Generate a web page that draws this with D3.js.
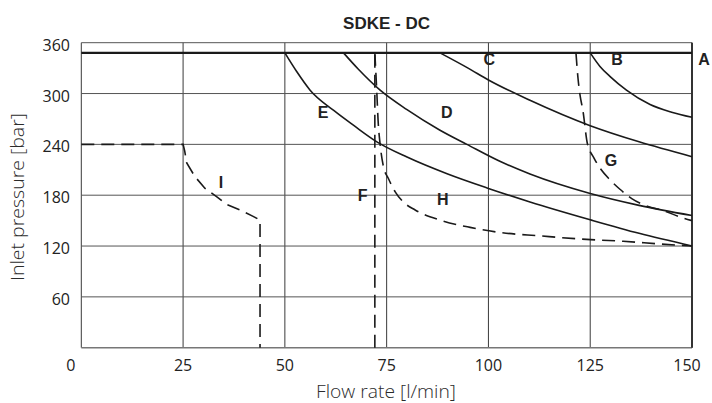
<!DOCTYPE html>
<meta charset="utf-8">
<style>
    body { margin: 0; background: #fff; }
    .grid line { stroke: #3a3a3a; stroke-width: 1; }
    .tick-label { font: 16px "Open Sans", sans-serif; fill: #222; }
    .axis-title { font: 300 18px "Open Sans", sans-serif; fill: #2b2b2b; }
    .curve { fill: none; stroke: #1a1a1a; stroke-width: 1.6; }
    .curve--dash { stroke-dasharray: 13,7; }
    .tag { font: bold 16px "Liberation Sans", Arial, sans-serif; fill: #222; text-anchor: middle; }
    .title { font: bold 17px "Liberation Sans", Arial, sans-serif; fill: #222; text-anchor: middle; }
</style>
<svg width="712" height="403"></svg>
<script src="https://d3js.org/d3.v7.min.js"></script>
<script>
    // ticks
    var flowTicks = [0, 25, 50, 75, 100, 125, 150];
    var pressTicks = [60, 120, 180, 240, 300, 360];

    // curves, [flow l/min, pressure bar]
    var curveA = [[0, 348], [150, 348]];
    var curveB = [[125, 348], [127.4, 332], [129.9, 320], [133.9, 304], [139.7, 287], [145, 278], [150, 272]];
    var curveC = [[88.1, 348], [95, 330], [100, 316], [110.2, 292], [125, 262], [137, 243], [150, 225.5]];
    var curveD = [[64.4, 348], [68, 329], [73.4, 304], [80, 281], [88, 257], [94.7, 240], [102.8, 220], [110.2, 205], [125, 182], [137, 168], [150, 156]];
    var curveE = [[50, 348], [52.9, 326], [56.2, 304], [62, 280], [67, 262], [72.6, 243], [80, 225], [90, 205], [100, 188], [110.2, 172], [125, 151], [137, 135], [150, 120]];
    var curveF = [[72.1, 0], [72.1, 348]];
    var curveG = [[121.5, 348], [122, 318], [122.5, 298], [123.2, 280], [124.3, 241], [125.8, 225], [127.4, 212], [129.9, 198], [132.3, 187], [135.2, 176], [138.5, 168], [142.9, 162], [147.8, 153], [150, 150]];
    var curveH = [[72.1, 348], [72.6, 300], [72.9, 268], [73.4, 240], [74.2, 214], [75.4, 200], [77.1, 184], [79.1, 172], [82, 162.6], [88.1, 150.7], [95.5, 142], [102.8, 136], [112.7, 132], [122.5, 128.3], [133.1, 125.6], [142.2, 122.4], [150, 120]];
    var curveI = [[0, 240], [25, 240], [25.4, 232], [25.9, 218], [27.9, 202], [30.4, 188], [33.3, 178], [35.7, 169], [39, 162.5], [42.2, 155], [43.9, 150.7], [43.9, 0]];

    var labels = [
        {t: "A", x: 152.8, y: 341}, {t: "B", x: 131.6, y: 341}, {t: "C", x: 100.2, y: 341},
        {t: "D", x: 89.8, y: 278}, {t: "E", x: 59.4, y: 278}, {t: "F", x: 69.1, y: 180},
        {t: "G", x: 130.1, y: 221}, {t: "H", x: 88.8, y: 176}, {t: "I", x: 34.3, y: 195}
    ];

    var svg = d3.select("svg");
    var x = d3.scaleLinear().domain([0, 150]).range([81.3, 692]);
    var y = d3.scaleLinear().domain([0, 360]).range([347.7, 42.7]);

    var grid = svg.append("g").attr("class", "grid");
    grid.selectAll(".v").data(flowTicks).enter().append("line")
        .attr("x1", function (d) { return x(d); }).attr("x2", function (d) { return x(d); })
        .attr("y1", y(0)).attr("y2", y(360));
    grid.selectAll(".h").data(pressTicks).enter().append("line")
        .attr("x1", x(0)).attr("x2", x(150))
        .attr("y1", function (d) { return y(d); }).attr("y2", function (d) { return y(d); })
        .style("stroke", "#555");
    // bottom and right edges
    svg.append("line").attr("x1", x(0)).attr("x2", x(150)).attr("y1", y(0)).attr("y2", y(0))
        .style("stroke", "#777").style("stroke-width", 1.6);
    svg.append("line").attr("x1", x(150)).attr("x2", x(150)).attr("y1", y(0)).attr("y2", y(360))
        .style("stroke", "#333").style("stroke-width", 2);

    // tick labels
    svg.selectAll(".xt").data(flowTicks).enter().append("text")
        .attr("class", "tick-label")
        .attr("x", function (d) { return d == 0 ? x(d) - 10.5 : d == 150 ? x(d) - 5 : x(d); })
        .attr("y", 370.5)
        .attr("text-anchor", "middle")
        .text(function (d) { return d; });
    svg.selectAll(".yt").data(pressTicks).enter().append("text")
        .attr("class", "tick-label")
        .attr("x", 70).attr("y", function (d) { return y(d) + 8; })
        .attr("text-anchor", "end")
        .text(function (d) { return d; });

    svg.append("text").attr("class", "axis-title")
        .attr("x", 386).attr("y", 398)
        .attr("text-anchor", "middle")
        .attr("textLength", 140).attr("lengthAdjust", "spacingAndGlyphs")
        .text("Flow rate [l/min]");
    svg.append("text").attr("class", "axis-title")
        .attr("transform", "translate(24,197) rotate(-90)")
        .attr("text-anchor", "middle")
        .attr("textLength", 168).attr("lengthAdjust", "spacingAndGlyphs")
        .text("Inlet pressure [bar]");

    svg.append("text").attr("class", "title")
        .attr("x", 386.5).attr("y", 29)
        .text("SDKE - DC");

    var smooth = d3.line().x(function (d) { return x(d[0]); }).y(function (d) { return y(d[1]); })
        .curve(d3.curveMonotoneX);
    var straight = d3.line().x(function (d) { return x(d[0]); }).y(function (d) { return y(d[1]); });

    var solid = [curveB, curveC, curveD, curveE];
    svg.selectAll(".solid").data(solid).enter().append("path")
        .attr("class", "curve").attr("d", smooth);
    svg.append("path").attr("class", "curve").style("stroke-width", 2.2).attr("d", straight(curveA));

    svg.append("path").attr("class", "curve curve--dash").attr("d", straight(curveF));
    svg.append("path").attr("class", "curve curve--dash").attr("d", smooth(curveG));
    svg.append("path").attr("class", "curve curve--dash").attr("d", smooth(curveH));
    svg.append("path").attr("class", "curve curve--dash").attr("d", straight(curveI));

    svg.selectAll(".tag").data(labels).enter().append("text")
        .attr("class", "tag")
        .attr("x", function (d) { return x(d.t == "A" ? 150 : d.x) + (d.t == "A" ? 12 : 0); })
        .attr("y", function (d) { return y(d.y) + 6; })
        .text(function (d) { return d.t; });
</script>
